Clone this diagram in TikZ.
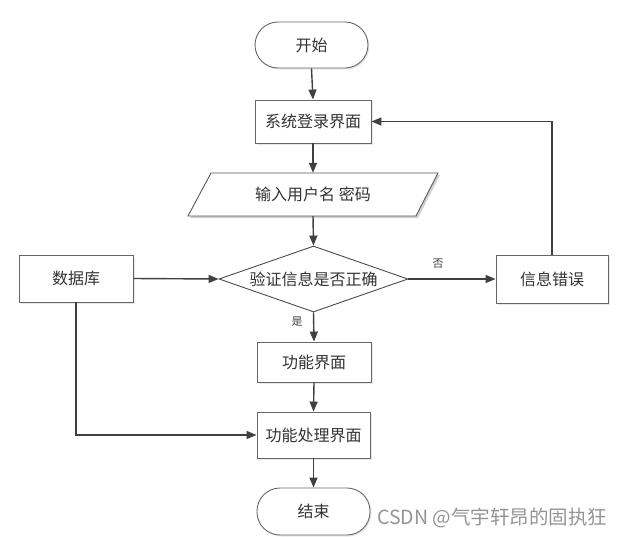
\documentclass[tikz,border=0pt]{standalone}
\usepackage{fontspec}
\setmainfont{Noto Sans CJK SC}
\newfontfamily\cjk{Noto Sans CJK SC}
\usetikzlibrary{shapes.geometric,arrows.meta,shadows}
\begin{document}
\begin{tikzpicture}[x=1pt,y=-1pt,
  every node/.style={font=\cjk\fontsize{16}{16}\selectfont, text=black!80, inner sep=0pt},
  boxshadow/.style={drop shadow={opacity=0.18,shadow xshift=1.5pt,shadow yshift=-1.5pt}},
  procbox/.style={draw=black!60, line width=0.9pt, fill=white, rectangle, boxshadow},
  pill/.style={draw=black!60, line width=0.9pt, fill=white, rectangle, rounded corners=23pt, boxshadow},
  decision/.style={draw=black!70, line width=0.9pt, fill=white, diamond, aspect=2.86},
  conn/.style={draw=black!75, line width=1.4pt, -{Triangle[length=10pt,width=8pt]}},
  lbl/.style={font=\cjk\fontsize{11}{11}\selectfont, text=black!75},
]
\useasboundingbox (0,0) rectangle (624,536);
\node[pill, minimum width=113pt, minimum height=46pt] (start) at (311.5,45) {开始};
\node[procbox, minimum width=116pt, minimum height=43pt] (login) at (313,121.5) {系统登录界面};
\fill[black!18] (213,175) -- (440,175) -- (418,218) -- (190,218) -- cycle;
\draw[black!65, line width=0.9pt, fill=white] (211,173) -- (438,173) -- (416,216) -- (188,216) -- cycle;
\node[minimum width=227pt, minimum height=43pt] (inp) at (313,194.5) {输入用户名 密码};
\node[decision, minimum width=189pt, minimum height=66pt] (dia) at (313.5,279) {验证信息是否正确};
\node[procbox, minimum width=114pt, minimum height=47pt] (db) at (76,278.5) {数据库};
\node[procbox, minimum width=112pt, minimum height=48pt] (err) at (552,279) {信息错误};
\node[procbox, minimum width=114pt, minimum height=40pt] (func) at (314,362) {功能界面};
\node[procbox, minimum width=113pt, minimum height=46pt] (proc) at (313.5,435) {功能处理界面};
\node[pill, minimum width=113pt, minimum height=47pt] (end) at (313.5,511.5) {结束};
\node[lbl] (yes) at (297,322) {是};
\node[lbl] (no) at (438,264) {否};
\node[font=\cjk\fontsize{19.5}{19.5}\selectfont, text=black!42, anchor=west] (wm) at (377,518) {CSDN @气宇轩昂的固执狂};
\draw[conn] (start.south) -- (login.north);
\draw[conn] (login.south) -- (inp.north);
\draw[conn] (inp.south) -- (dia.north);
\draw[conn] (dia.south) -- (func.north);
\draw[conn] (dia.east) -- (err.west);
\draw[conn] (db.east) -- (dia.west);
\draw[conn] (err.north) |- (login.east);
\draw[conn] (db.south) |- (proc.west);
\draw[conn] (func.south) -- (proc.north);
\draw[conn] (proc.south) -- (end.north);
\end{tikzpicture}
\end{document}
